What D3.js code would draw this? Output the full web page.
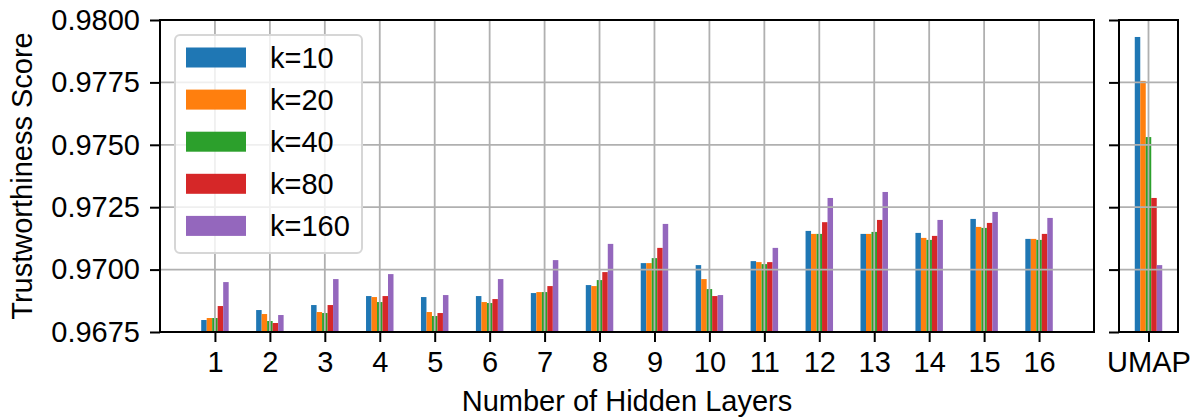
<!DOCTYPE html>
<html>
<head>
<meta charset="utf-8">
<script src="https://cdn.jsdelivr.net/npm/d3@7"></script>
<style>
  html, body { margin: 0; padding: 0; background: #fff; }
  svg text { font-family: "Liberation Sans", Arial, Helvetica, sans-serif; fill: #000; }
</style>
</head>
<body>
<svg id="chart" width="1191" height="417"></svg>
<script>
// Hidden-layer counts on the x axis
const layers = [1, 2, 3, 4, 5, 6, 7, 8, 9, 10, 11, 12, 13, 14, 15, 16];
// Neighbourhood sizes (one bar per k in each group)
const kLabels = ["k=10", "k=20", "k=40", "k=80", "k=160"];
const colors = ["#1f77b4", "#ff7f0e", "#2ca02c", "#d62728", "#9467bd"];

// Trustworthiness per hidden-layer count, one array per k
const k10  = [0.96798, 0.96838, 0.96858, 0.96894, 0.96890, 0.96894, 0.96906, 0.96938, 0.97026, 0.97018, 0.97034, 0.97155, 0.97143, 0.97147, 0.97203, 0.97123];
const k20  = [0.96806, 0.96822, 0.96830, 0.96890, 0.96830, 0.96870, 0.96910, 0.96934, 0.97026, 0.96962, 0.97030, 0.97143, 0.97143, 0.97127, 0.97171, 0.97123];
const k40  = [0.96806, 0.96794, 0.96826, 0.96870, 0.96814, 0.96866, 0.96910, 0.96958, 0.97046, 0.96922, 0.97022, 0.97143, 0.97151, 0.97119, 0.97167, 0.97119];
const k80  = [0.96854, 0.96786, 0.96858, 0.96894, 0.96826, 0.96882, 0.96934, 0.96990, 0.97087, 0.96894, 0.97030, 0.97190, 0.97199, 0.97135, 0.97187, 0.97143];
const k160 = [0.96950, 0.96818, 0.96962, 0.96982, 0.96898, 0.96962, 0.97038, 0.97103, 0.97183, 0.96898, 0.97087, 0.97287, 0.97311, 0.97199, 0.97231, 0.97207];
const series = [k10, k20, k40, k80, k160];

// UMAP baseline, one value per k
const umap = [0.97932, 0.97756, 0.97531, 0.97287, 0.97018];

// Y axis ticks
const yTicks = [0.9675, 0.9700, 0.9725, 0.9750, 0.9775, 0.9800];
const yDomain = [0.9675, 0.9800];

const svg = d3.select("#chart");
const plotTop = 20, plotBottom = 332;
const mainL = 160, mainR = 1094;
const umapL = 1119, umapR = 1178;
const fontSize = 29;
const barW = 0.1;
const offsets = [-0.2, -0.1, 0, 0.1, 0.2];

const y = d3.scaleLinear().domain(yDomain).range([plotBottom, plotTop]);
const x = d3.scaleLinear().domain([0, 17]).range([mainL, mainR]);
const pxPerUnit = (mainR - mainL) / 17;
const half = (umapR - umapL) / 2 / pxPerUnit;
const xu = d3.scaleLinear().domain([-half, half]).range([umapL, umapR]);

function panel(g, xs, xTickVals, xTickFmt, showYLabels, barsData) {
  // bars
  barsData.forEach(d => {
    g.append("rect")
      .attr("x", xs(d.x - barW / 2))
      .attr("width", xs(d.x + barW / 2) - xs(d.x - barW / 2))
      .attr("y", y(d.v))
      .attr("height", y(yDomain[0]) - y(d.v))
      .attr("fill", d.c);
  });
  // grid drawn over the bars
  const grid = g.append("g").attr("stroke", "#b0b0b0").attr("stroke-width", 1.8);
  xTickVals.forEach(t => grid.append("line")
    .attr("x1", xs(t)).attr("x2", xs(t)).attr("y1", plotTop).attr("y2", plotBottom));
  yTicks.forEach(t => grid.append("line")
    .attr("x1", xs.range()[0]).attr("x2", xs.range()[1]).attr("y1", y(t)).attr("y2", y(t)));

  // axes
  const xAxis = d3.axisBottom(xs).tickValues(xTickVals).tickFormat(xTickFmt)
    .tickSize(10).tickPadding(9);
  const gx = g.append("g").attr("transform", `translate(0,${plotBottom})`).call(xAxis);
  const yAxis = d3.axisLeft(y).tickValues(yTicks)
    .tickFormat(showYLabels ? d3.format(".4f") : () => "")
    .tickSize(10).tickPadding(10);
  const gy = g.append("g").attr("transform", `translate(${xs.range()[0]},0)`).call(yAxis);
  [gx, gy].forEach(a => {
    a.select(".domain").remove();
    a.selectAll(".tick line").attr("stroke", "#000").attr("stroke-width", 2);
    a.selectAll(".tick text").attr("font-size", fontSize)
      .attr("font-family", '"Liberation Sans", Arial, sans-serif').attr("fill", "#000");
  });
  // frame
  g.append("rect")
    .attr("x", xs.range()[0]).attr("y", plotTop)
    .attr("width", xs.range()[1] - xs.range()[0]).attr("height", plotBottom - plotTop)
    .attr("fill", "none").attr("stroke", "#000").attr("stroke-width", 2);
}

const mainBars = [];
layers.forEach((L, i) => series.forEach((s, j) =>
  mainBars.push({ x: L + offsets[j], v: s[i], c: colors[j] })));
panel(svg.append("g"), x, layers, d3.format("d"), true, mainBars);

const umapBars = umap.map((v, j) => ({ x: offsets[j], v: v, c: colors[j] }));
panel(svg.append("g"), xu, [0], () => "UMAP", false, umapBars);

// axis titles
svg.append("text")
  .attr("x", (mainL + mainR) / 2).attr("y", 411)
  .attr("text-anchor", "middle").attr("font-size", fontSize)
  .text("Number of Hidden Layers");
svg.append("text")
  .attr("transform", `translate(32,${(plotTop + plotBottom) / 2}) rotate(-90)`)
  .attr("text-anchor", "middle").attr("font-size", fontSize)
  .text("Trustworthiness Score");

// legend
const lg = svg.append("g");
lg.append("rect")
  .attr("x", 175).attr("y", 35).attr("width", 187).attr("height", 218)
  .attr("rx", 5).attr("ry", 5)
  .attr("fill", "rgba(255,255,255,0.8)").attr("stroke", "#d6d6d6").attr("stroke-width", 2);
kLabels.forEach((lab, j) => {
  const cy = 57.5 + j * 42.1;
  lg.append("rect").attr("x", 186).attr("y", cy - 10).attr("width", 60).attr("height", 20)
    .attr("fill", colors[j]);
  lg.append("text").attr("x", 270).attr("y", cy).attr("dy", "0.36em")
    .attr("font-size", fontSize).text(lab);
});
</script>
</body>
</html>
